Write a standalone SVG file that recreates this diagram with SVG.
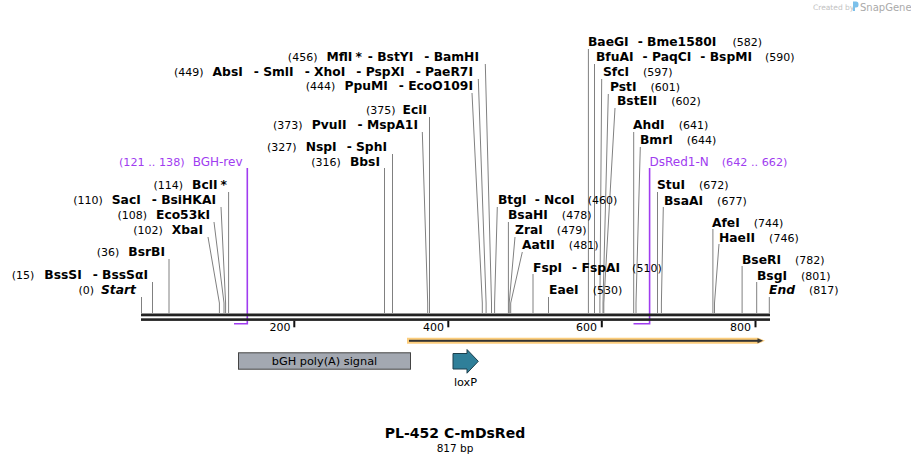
<svg xmlns="http://www.w3.org/2000/svg" width="911" height="464" viewBox="0 0 911 464">
<style>
text{font-family:"DejaVu Sans",Verdana,sans-serif;font-size:11px;fill:#000}
.b{font-weight:bold;font-size:12.3px}
.i{font-style:italic}
.p{fill:#a03cf0;font-size:12px}
.pn{font-size:11.2px}
.num{font-weight:normal;font-style:normal;font-size:11px}
.cut{stroke:#808080;stroke-width:1;fill:none}
.prim{stroke:#a03cf0;stroke-width:1.6;fill:none}
.tick{fill:#111}
</style>
<rect width="911" height="464" fill="#fff"/>
<g id="watermark">
<text x="813" y="10" style="font-size:7.5px;fill:#c2c2c2">Created by</text>
<path d="M853 1.5 h3 a2.5 2.5 0 0 1 2.5 2.5 v1 a2.5 2.5 0 0 1 -2.5 2.5 h-1 v3.5 h-2 z" fill="#7cc0ea"/>
<text x="860" y="11" style="font-size:10px;fill:#aaaaaa">SnapGene</text>
</g>
<g id="connectors">
<path class="cut" d="M141.5 297V313"/>
<path class="cut" d="M152.5 282V313"/>
<path class="cut" d="M169 259V313"/>
<path class="cut" d="M208 237L219.4 303V313"/>
<path class="cut" d="M214 222L224 303V313"/>
<path class="cut" d="M221 207L225.6 303V313"/>
<path class="cut" d="M228.6 192V313"/>
<path class="cut" d="M384.5 168V313"/>
<path class="cut" d="M392.5 154V313"/>
<path class="cut" d="M422.3 132L427.7 303V313"/>
<path class="cut" d="M429.5 117V313"/>
<path class="cut" d="M472 93L482.3 303V313"/>
<path class="cut" d="M478.3 79L486.1 303V313"/>
<path class="cut" d="M485.3 64L491.5 303V313"/>
<path class="cut" d="M497.3 207L494.6 303V313"/>
<path class="cut" d="M508.4 222V313"/>
<path class="cut" d="M515 237L509.2 303V313"/>
<path class="cut" d="M522.3 252L510.7 303V313"/>
<path class="cut" d="M533 274V313"/>
<path class="cut" d="M548.5 297V313"/>
<path class="cut" d="M588.4 49V313"/>
<path class="cut" d="M594.5 64V313"/>
<path class="cut" d="M601.7 79L599.9 303V313"/>
<path class="cut" d="M608.3 94L603 303V313"/>
<path class="cut" d="M615 108L603.8 303V313"/>
<path class="cut" d="M633.7 132V313"/>
<path class="cut" d="M640.3 147L636 303V313"/>
<path class="cut" d="M657.5 192V313"/>
<path class="cut" d="M663.3 207L661.4 303V313"/>
<path class="cut" d="M712.9 229V313"/>
<path class="cut" d="M719 244L714.5 303V313"/>
<path class="cut" d="M742.1 266V313"/>
<path class="cut" d="M756.7 282V313"/>
<path class="cut" d="M769.3 297V313"/>
<path class="prim" d="M247.3 168V323.8H234"/>
<path class="prim" d="M649.6 168V323.8H633.5"/>
</g>
<g id="backbone">
<rect x="141" y="313.5" width="629" height="2.8" fill="#222"/>
<rect x="141" y="318.3" width="629" height="2.6" fill="#222"/>
<rect class="tick" x="293.3" y="320.8" width="2" height="6.5"/>
<rect class="tick" x="447.3" y="320.8" width="2" height="6.5"/>
<rect class="tick" x="600.8" y="320.8" width="2" height="6.5"/>
<rect class="tick" x="754.5" y="320.8" width="2" height="6.5"/>
<text x="290.5" y="331" text-anchor="end">200</text>
<text x="444" y="331" text-anchor="end">400</text>
<text x="597" y="331" text-anchor="end">600</text>
<text x="751" y="331" text-anchor="end">800</text>
</g>
<g id="orf">
<path d="M407 337.8H758L765 340.8L758 343.8H407Z" fill="#fccd7c"/>
<rect x="409" y="339.8" width="350" height="2" fill="#333"/>
<path d="M757.5 338.3L763 340.8L757.5 343.3Z" fill="#333"/>
</g>
<g id="bGH-polyA">
<rect x="238.5" y="352.8" width="172" height="16.4" fill="#a3a8b1" stroke="#444" stroke-width="1"/>
<text x="324.5" y="365" text-anchor="middle" style="font-size:11.3px">bGH poly(A) signal</text>
</g>
<g id="loxP">
<path d="M453 353.5H467V349.5L478.3 361.3L467 373.2V369H453Z" fill="#2f7f99" stroke="#1c3f4c" stroke-width="1"/>
<text x="465.5" y="386" text-anchor="middle" style="font-size:11.3px">loxP</text>
</g>
<g id="title">
<text x="455" y="437.5" text-anchor="middle" style="font-weight:bold;font-size:14px">PL-452 C-mDsRed</text>
<text x="455" y="451.5" text-anchor="middle" style="font-size:10.5px">817 bp</text>
</g>
<g id="primer-BGH-rev"><text x="242.5" y="166" text-anchor="end" class="p"><tspan class="pn">(121 .. 138)</tspan><tspan dx="8">BGH-rev</tspan></text></g>
<g id="primer-DsRed1-N"><text x="649.5" y="166" class="p">DsRed1-N<tspan class="pn" dx="13">(642 .. 662)</tspan></text></g>
<g id="site-Start"><text x="136" y="294" text-anchor="end">(0)<tspan class="b i" dx="7">Start</tspan></text></g>
<g id="site-BssSI"><text x="148" y="279" text-anchor="end">(15)<tspan class="b" dx="10">BssSI</tspan><tspan class="b" dx="11">- BssSαI</tspan></text></g>
<g id="site-BsrBI"><text x="165" y="256" text-anchor="end">(36)<tspan class="b" dx="9">BsrBI</tspan></text></g>
<g id="site-XbaI"><text x="203" y="234" text-anchor="end">(102)<tspan class="b" dx="9">XbaI</tspan></text></g>
<g id="site-Eco53kI"><text x="210" y="219" text-anchor="end">(108)<tspan class="b" dx="9">Eco53kI</tspan></text></g>
<g id="site-SacI"><text x="216" y="204" text-anchor="end">(110)<tspan class="b" dx="9">SacI</tspan><tspan class="b" dx="11">- BsiHKAI</tspan></text></g>
<g id="site-BclI"><text x="227" y="189" text-anchor="end">(114)<tspan class="b" dx="9">BclI</tspan><tspan class="b" dx="3">*</tspan></text></g>
<g id="site-BbsI"><text x="380" y="165.5" text-anchor="end">(316)<tspan class="b" dx="9">BbsI</tspan></text></g>
<g id="site-NspI"><text x="387" y="151" text-anchor="end">(327)<tspan class="b" dx="9">NspI</tspan><tspan class="b" dx="10">- SphI</tspan></text></g>
<g id="site-PvuII"><text x="418" y="129" text-anchor="end">(373)<tspan class="b" dx="9">PvuII</tspan><tspan class="b" dx="11">- MspA1I</tspan></text></g>
<g id="site-EciI"><text x="427" y="114" text-anchor="end">(375)<tspan class="b" dx="7">EciI</tspan></text></g>
<g id="site-PpuMI"><text x="473" y="90" text-anchor="end">(444)<tspan class="b" dx="9">PpuMI</tspan><tspan class="b" dx="11">- EcoO109I</tspan></text></g>
<g id="site-AbsI"><text x="473" y="75.5" text-anchor="end">(449)<tspan class="b" dx="9">AbsI</tspan><tspan class="b" dx="11">- SmlI</tspan><tspan class="b" dx="11">- XhoI</tspan><tspan class="b" dx="11">- PspXI</tspan><tspan class="b" dx="11">- PaeR7I</tspan></text></g>
<g id="site-MflI"><text x="479" y="61" text-anchor="end">(456)<tspan class="b" dx="9">MflI</tspan><tspan class="b" dx="3">*</tspan><tspan class="b" dx="6">- BstYI</tspan><tspan class="b" dx="11">- BamHI</tspan></text></g>
<g id="site-BtgI"><text x="498" y="204" class="b">BtgI<tspan dx="8">- NcoI</tspan><tspan class="num" dx="13">(460)</tspan></text></g>
<g id="site-BsaHI"><text x="508" y="219" class="b">BsaHI<tspan class="num" dx="14">(478)</tspan></text></g>
<g id="site-ZraI"><text x="515" y="234" class="b">ZraI<tspan class="num" dx="14">(479)</tspan></text></g>
<g id="site-AatII"><text x="522" y="249" class="b">AatII<tspan class="num" dx="14">(481)</tspan></text></g>
<g id="site-FspI"><text x="533" y="271.5" class="b">FspI<tspan dx="10">- FspAI</tspan><tspan class="num" dx="12">(510)</tspan></text></g>
<g id="site-EaeI"><text x="549" y="294" class="b">EaeI<tspan class="num" dx="14">(530)</tspan></text></g>
<g id="site-BaeGI"><text x="588" y="46" class="b">BaeGI<tspan dx="9">- Bme1580I</tspan><tspan class="num" dx="16">(582)</tspan></text></g>
<g id="site-BfuAI"><text x="596" y="61" class="b">BfuAI<tspan dx="9">- PaqCI</tspan><tspan dx="9">- BspMI</tspan><tspan class="num" dx="13">(590)</tspan></text></g>
<g id="site-SfcI"><text x="603" y="76" class="b">SfcI<tspan class="num" dx="14">(597)</tspan></text></g>
<g id="site-PstI"><text x="610" y="91" class="b">PstI<tspan class="num" dx="14">(601)</tspan></text></g>
<g id="site-BstEII"><text x="617" y="105" class="b">BstEII<tspan class="num" dx="14">(602)</tspan></text></g>
<g id="site-AhdI"><text x="633" y="129" class="b">AhdI<tspan class="num" dx="14">(641)</tspan></text></g>
<g id="site-BmrI"><text x="640" y="144" class="b">BmrI<tspan class="num" dx="14">(644)</tspan></text></g>
<g id="site-StuI"><text x="657" y="189" class="b">StuI<tspan class="num" dx="14">(672)</tspan></text></g>
<g id="site-BsaAI"><text x="664" y="204.5" class="b">BsaAI<tspan class="num" dx="14">(677)</tspan></text></g>
<g id="site-AfeI"><text x="712" y="226.5" class="b">AfeI<tspan class="num" dx="14">(744)</tspan></text></g>
<g id="site-HaeII"><text x="719" y="241.5" class="b">HaeII<tspan class="num" dx="14">(746)</tspan></text></g>
<g id="site-BseRI"><text x="742" y="264" class="b">BseRI<tspan class="num" dx="14">(782)</tspan></text></g>
<g id="site-BsgI"><text x="757" y="279.5" class="b">BsgI<tspan class="num" dx="14">(801)</tspan></text></g>
<g id="site-End"><text x="769" y="294" class="b i">End<tspan class="num" dx="14">(817)</tspan></text></g>
</svg>
